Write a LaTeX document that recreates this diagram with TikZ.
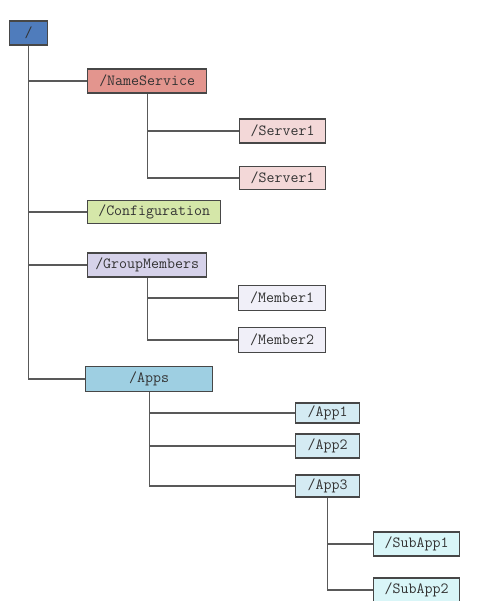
\documentclass[tikz,border=0pt]{standalone}
\usepackage{fontspec}
\begin{document}
\begin{tikzpicture}[x=1pt,y=-1pt,
  box/.style={draw=black!72,line width=1.3pt,anchor=west,inner sep=0pt,
    font=\ttfamily\fontsize{15.5}{16}\selectfont,text=black!80},
  link/.style={draw=black!65,line width=1.2pt}]
\fill[white] (0,0) rectangle (499,601);
\useasboundingbox (0,0) rectangle (499,601);
\definecolor{cRoot}{HTML}{4F7CBC}
\definecolor{cNS}{HTML}{E3958E}
\definecolor{cSrv}{HTML}{F3D8D8}
\definecolor{cCfg}{HTML}{D5E7A9}
\definecolor{cGM}{HTML}{D6D2EA}
\definecolor{cMem}{HTML}{F0EFF8}
\definecolor{cApps}{HTML}{9ECFE2}
\definecolor{cApp}{HTML}{D4EBF3}
\definecolor{cSub}{HTML}{D9F6F8}
\node[box,fill=cRoot,minimum width=38pt,minimum height=24pt] (root) at (9,33) {/};
\node[box,fill=cNS,minimum width=119pt,minimum height=24pt] (ns) at (87,81) {/NameService};
\node[box,fill=cSrv,minimum width=86pt,minimum height=24pt] (s1) at (239,131) {/Server1};
\node[box,fill=cSrv,minimum width=86pt,minimum height=23pt] (s2) at (239,178) {/Server1};
\node[box,fill=cCfg,minimum width=133pt,minimum height=23pt] (cfg) at (87,212) {/Configuration};
\node[box,fill=cGM,minimum width=119pt,minimum height=24pt] (gm) at (87,265) {/GroupMembers};
\node[box,fill=cMem,minimum width=87pt,minimum height=25pt] (m1) at (238,298) {/Member1};
\node[box,fill=cMem,minimum width=87pt,minimum height=25pt] (m2) at (238,340) {/Member2};
\node[box,fill=cApps,minimum width=127pt,minimum height=25pt] (apps) at (85,379) {/Apps};
\node[box,fill=cApp,minimum width=64pt,minimum height=20pt] (a1) at (295,413) {/App1};
\node[box,fill=cApp,minimum width=64pt,minimum height=24pt] (a2) at (295,446) {/App2};
\node[box,fill=cApp,minimum width=64pt,minimum height=22pt] (a3) at (295,486) {/App3};
\node[box,fill=cSub,minimum width=86pt,minimum height=24pt] (sa1) at (373,544) {/SubApp1};
\node[box,fill=cSub,minimum width=86pt,minimum height=24pt] (sa2) at (373,590) {/SubApp2};
\draw[link] (root.south) |- (ns.west);
\draw[link] (root.south) |- (cfg.west);
\draw[link] (root.south) |- (gm.west);
\draw[link] (root.south) |- (apps.west);
\draw[link] (ns.south) |- (s1.west);
\draw[link] (ns.south) |- (s2.west);
\draw[link] (gm.south) |- (m1.west);
\draw[link] (gm.south) |- (m2.west);
\draw[link] (apps.south) |- (a1.west);
\draw[link] (apps.south) |- (a2.west);
\draw[link] (apps.south) |- (a3.west);
\draw[link] (a3.south) |- (sa1.west);
\draw[link] (a3.south) |- (sa2.west);
\end{tikzpicture}
\end{document}
